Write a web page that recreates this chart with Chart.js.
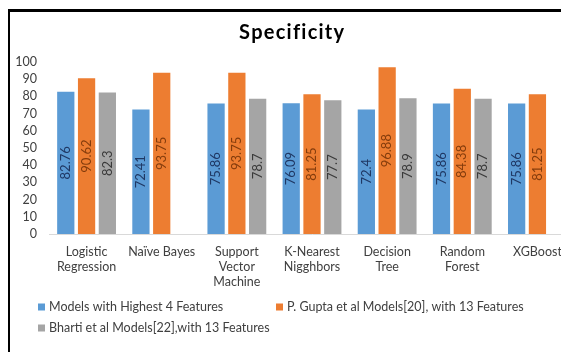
<!DOCTYPE html>
<html>
<head>
<meta charset="utf-8">
<script src="https://cdn.jsdelivr.net/npm/chart.js@4"></script>
<style>
  html, body { margin: 0; padding: 0; background: #fff; overflow: hidden; }
  #wrap { position: relative; width: 575px; height: 352px; }
  #frame {
    position: absolute; left: 8px; top: 9px; width: 600px; height: 400px;
    border-top: 3px solid #000; border-left: 2px solid #000;
  }
  #specChart { position: absolute; left: 0; top: 0; }
</style>
</head>
<body>
<div id="wrap">
  <div id="frame"></div>
  <canvas id="specChart" width="575" height="352"></canvas>
</div>
<script>
const categories = [
  ["Logistic", "Regression"],
  "Naïve Bayes",
  ["Support", "Vector", "Machine"],
  ["K-Nearest", "Nigghbors"],
  ["Decision", "Tree"],
  ["Random", "Forest"],
  "XGBoost",
];
const top4Features = [82.76, 72.41, 75.86, 76.09, 72.4, 75.86, 75.86];
const guptaModels = [90.62, 93.75, 93.75, 81.25, 96.88, 84.38, 81.25];
const bhartiModels = [82.3, null, 78.7, 77.7, 78.9, 78.7, null];
const yTicks = [0, 10, 20, 30, 40, 50, 60, 70, 80, 90, 100];

const seriesNames = [
  "Models with Highest 4 Features",
  "P. Gupta et al Models[20], with 13 Features",
  "Bharti et al Models[22],with 13 Features",
];
const barColors = ["#5B9BD5", "#ED7D31", "#A5A5A5"];
const labelColors = ["#1F3864", "#843C0C", "#3A3A3A"];
const fontFamily = "Lato, 'Open Sans', sans-serif";

// value labels, rotated, in the middle of each bar
const barLabels = {
  id: "barLabels",
  afterDatasetsDraw(chart) {
    const ctx = chart.ctx;
    chart.data.datasets.forEach((ds, i) => {
      const meta = chart.getDatasetMeta(i);
      meta.data.forEach((bar, j) => {
        const v = ds.data[j];
        if (v == null) return;
        ctx.save();
        ctx.translate(bar.x, (bar.y + bar.base) / 2);
        ctx.rotate(-Math.PI / 2);
        ctx.font = "13px " + fontFamily;
        ctx.fillStyle = labelColors[i];
        ctx.textAlign = "center";
        ctx.textBaseline = "middle";
        ctx.fillText(String(v), 0, 0);
        ctx.restore();
      });
    });
  },
};

// legend laid out in two columns, left aligned
const gridLegend = {
  id: "gridLegend",
  afterDraw(chart) {
    const ctx = chart.ctx;
    const left = chart.chartArea.left - 11;
    const spots = [
      [left, 307],
      [left + 238, 307],
      [left, 328],
    ];
    ctx.save();
    ctx.font = "12.5px " + fontFamily;
    ctx.textBaseline = "middle";
    chart.data.datasets.forEach((ds, i) => {
      const [x, y] = spots[i];
      ctx.fillStyle = ds.backgroundColor;
      ctx.fillRect(x, y - 3.5, 7, 7);
      ctx.fillStyle = "#404040";
      ctx.fillText(ds.label, x + 11, y);
    });
    ctx.restore();
  },
};

const datasets = [top4Features, guptaModels, bhartiModels].map((data, i) => ({
  label: seriesNames[i],
  data,
  backgroundColor: barColors[i],
  categoryPercentage: 0.83,
  barPercentage: 0.83,
}));

new Chart(document.getElementById("specChart"), {
  type: "bar",
  data: { labels: categories, datasets },
  options: {
    responsive: false,
    animation: false,
    layout: { padding: { left: 8, right: 0, top: 10, bottom: 58 } },
    plugins: {
      legend: { display: false },
      tooltip: { enabled: false },
      title: {
        display: true,
        text: "S p e c i f i c i t y".replace(/ /g, "\u200A"),
        color: "#000",
        font: { family: fontFamily, size: 20, weight: "bold" },
        padding: { top: 11, bottom: 17 },
      },
    },
    scales: {
      x: {
        grid: { display: false, drawTicks: false },
        border: { display: true, color: "#D9D9D9", width: 1 },
        ticks: {
          color: "#404040",
          font: { family: fontFamily, size: 12.5 },
          padding: 10,
          maxRotation: 0,
          autoSkip: false,
        },
        afterFit(scale) { scale.height = 60; },
      },
      y: {
        min: 0,
        max: 100,
        grid: { display: false, drawTicks: false },
        border: { display: false },
        afterBuildTicks(scale) { scale.ticks = yTicks.map((v) => ({ value: v })); },
        ticks: {
          color: "#404040",
          font: { family: fontFamily, size: 12.5 },
          padding: 12,
          autoSkip: false,
        },
        afterFit(scale) { scale.width = 41; },
      },
    },
  },
  plugins: [barLabels, gridLegend],
});
</script>
</body>
</html>
